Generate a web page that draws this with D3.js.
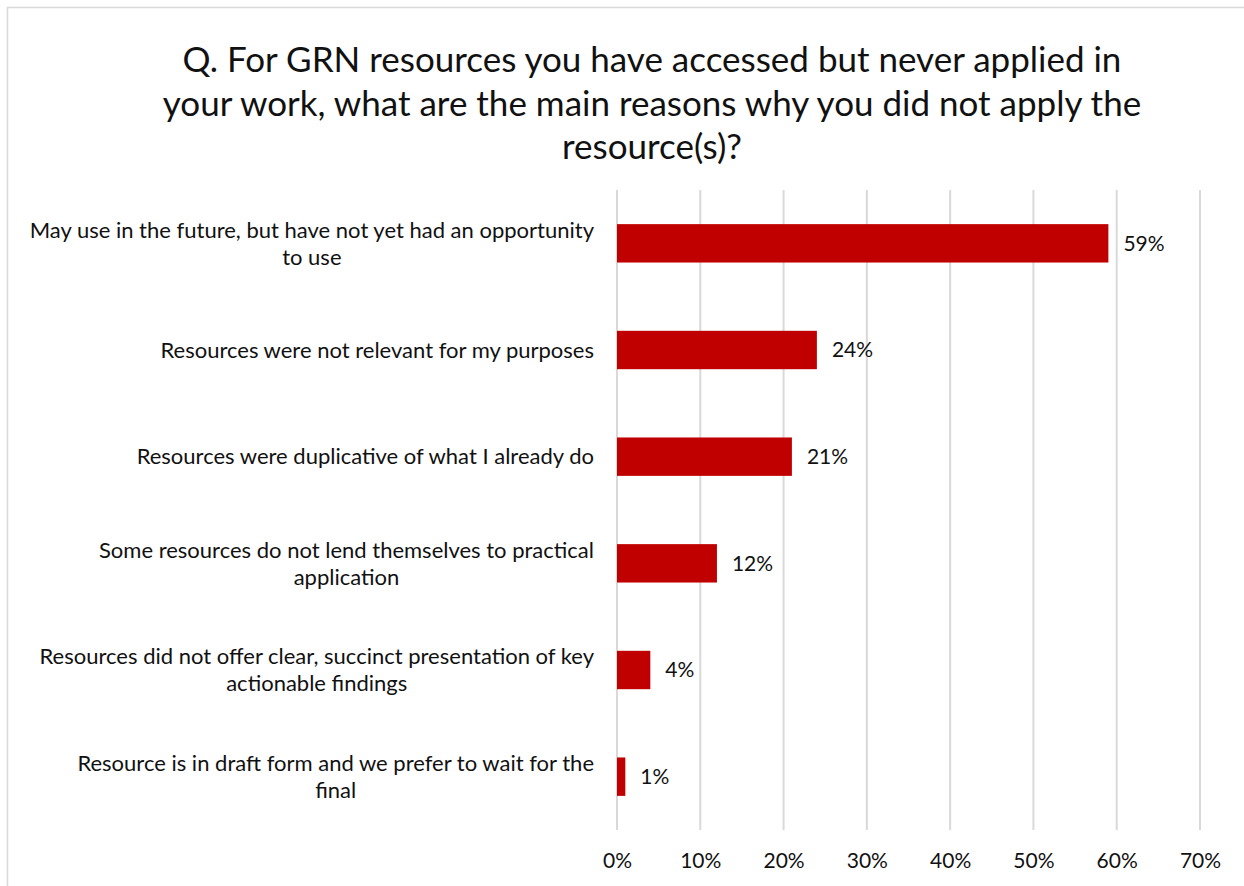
<!DOCTYPE html>
<html>
<head>
<meta charset="utf-8">
<script src="https://cdn.jsdelivr.net/npm/d3@7"></script>
<style>
  html, body { margin: 0; padding: 0; background: #fff; }
  svg text { font-family: "Lato", "Open Sans", sans-serif; fill: #111; }
</style>
</head>
<body>
<svg id="chart" width="1244" height="886"></svg>
<script>
// Survey reasons for not applying accessed GRN resources
const titleLines = [
  "Q. For GRN resources you have accessed but never applied in",
  "your work, what are the main reasons why you did not apply the",
  "resource(s)?"
];
const categoryLines = [
  ["May use in the future, but have not yet had an opportunity", "to use"],
  ["Resources were not relevant for my purposes"],
  ["Resources were duplicative of what I already do"],
  ["Some resources do not lend themselves to practical", "application"],
  ["Resources did not offer clear, succinct presentation of key", "actionable findings"],
  ["Resource is in draft form and we prefer to wait for the", "final"]
];
const values = [59, 24, 21, 12, 4, 1];
const tickValues = [0, 10, 20, 30, 40, 50, 60, 70];

const svg = d3.select("#chart");
const W = 1244, H = 886;

// outer chart border
svg.append("rect")
  .attr("x", 7.5).attr("y", 7.5)
  .attr("width", W + 10).attr("height", H + 10)
  .attr("fill", "#fff").attr("stroke", "#d9d9d9").attr("stroke-width", 1.5);

// title
svg.append("g").selectAll("text")
  .data(titleLines).join("text")
  .attr("x", 652)
  .attr("y", (d, i) => 72 + i * 43.5)
  .attr("text-anchor", "middle")
  .style("font-size", "35px")
  .text(d => d);

const plot = { left: 617, right: 1200, top: 190, bottom: 830 };

const x = d3.scaleLinear().domain([0, 70]).range([plot.left, plot.right]);
const y = d3.scaleBand()
  .domain(d3.range(values.length))
  .range([plot.top, plot.bottom])
  .paddingInner(0.64).paddingOuter(0.32);

// vertical gridlines
svg.append("g").selectAll("line")
  .data(tickValues).join("line")
  .attr("x1", d => x(d)).attr("x2", d => x(d))
  .attr("y1", plot.top).attr("y2", plot.bottom)
  .attr("stroke", "#d9d9d9").attr("stroke-width", 2);

// x axis labels
const xAxis = d3.axisBottom(x).tickValues(tickValues).tickFormat(d => d + "%").tickSize(0).tickPadding(0);
const gx = svg.append("g").attr("transform", `translate(0,${plot.bottom})`).call(xAxis);
gx.select(".domain").remove();
gx.selectAll("text")
  .attr("y", 38)
  .attr("dy", null)
  .style("font-size", "21px")
  .style("font-family", "Lato, sans-serif")
  .attr("fill", "#111");

// bars
svg.append("g").selectAll("rect")
  .data(values).join("rect")
  .attr("x", x(0))
  .attr("y", (d, i) => y(i))
  .attr("width", d => x(d) - x(0))
  .attr("height", y.bandwidth())
  .attr("fill", "#c00000");

// value labels
svg.append("g").selectAll("text")
  .data(values).join("text")
  .attr("x", d => x(d) + 15)
  .attr("y", (d, i) => y(i) + y.bandwidth() / 2)
  .attr("dy", "0.35em")
  .style("font-size", "21px")
  .text(d => d + "%");

// category labels: wrapped lines centered within a right-aligned block
const labelRight = 594;
const lineH = 27;
categoryLines.forEach((lines, i) => {
  const g = svg.append("g");
  const texts = g.selectAll("text").data(lines).join("text")
    .style("font-size", "22px")
    .attr("text-anchor", "middle")
    .text(d => d);
  let maxW = 0;
  texts.each(function () { maxW = Math.max(maxW, this.getComputedTextLength()); });
  const cy = y(i) + y.bandwidth() / 2;
  const firstY = cy - (lines.length - 1) * lineH / 2;
  texts.attr("x", labelRight - maxW / 2)
    .attr("y", (d, j) => firstY + j * lineH)
    .attr("dy", "0.35em");
});
</script>
</body>
</html>
